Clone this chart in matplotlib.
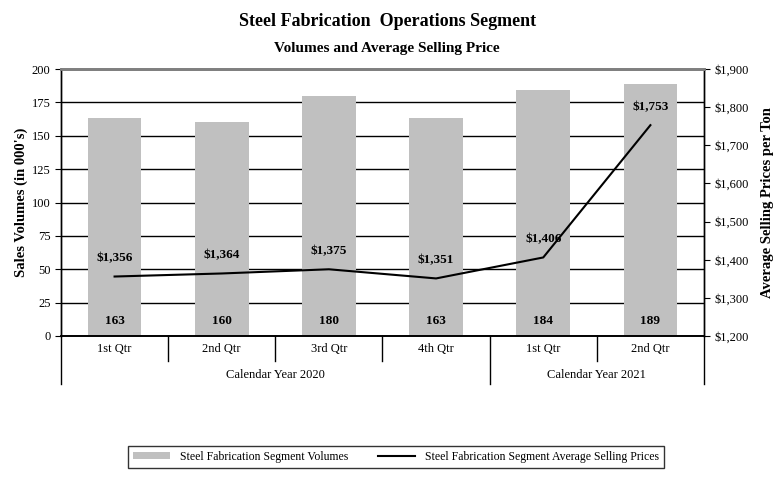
import matplotlib.pyplot as plt
from matplotlib.ticker import FuncFormatter

plt.rcParams['font.family'] = ['Liberation Serif', 'DejaVu Serif']

quarters = ['1st Qtr', '2nd Qtr', '3rd Qtr', '4th Qtr', '1st Qtr', '2nd Qtr']
years = ['Calendar Year 2020', 'Calendar Year 2021']
year_spans = [(0, 4), (4, 6)]
volumes = [163, 160, 180, 163, 184, 189]
prices = [1356, 1364, 1375, 1351, 1406, 1753]

fig = plt.figure(figsize=(7.79, 4.8), dpi=100)
ax = fig.add_axes([0.0783, 0.3, 0.8254, 0.556])
ax2 = ax.twinx()

x = list(range(len(quarters)))
ax.bar(x, volumes, width=0.5, color='#C0C0C0', zorder=2,
       label='Steel Fabrication Segment Volumes')
for xi, v in zip(x, volumes):
    ax.text(xi, 11, str(v), ha='center', va='center', fontsize=9.5,
            fontweight='bold', zorder=5)

ax.set_xlim(-0.5, 5.5)
ax.set_ylim(0, 200)
ax.set_yticks(range(0, 201, 25))
ax.yaxis.grid(True, color='black', linewidth=1, zorder=0)
ax.set_axisbelow(True)
ax.set_xticks([])
ax.tick_params(axis='y', labelsize=9, length=4, direction='out')
ax.set_ylabel("Sales Volumes (in 000's)", fontsize=10.5, fontweight='bold',
              labelpad=3)

ax2.plot(x, prices, color='black', linewidth=1.5, zorder=4,
         label='Steel Fabrication Segment Average Selling Prices')
for xi, p in zip(x, prices):
    ax2.annotate('${:,}'.format(p), (xi, p), xytext=(0, 13),
                 textcoords='offset points', ha='center', va='center',
                 fontsize=9.5, fontweight='bold')
ax2.set_ylim(1200, 1900)
ax2.set_yticks(range(1200, 1901, 100))
ax2.yaxis.set_major_formatter(FuncFormatter(lambda v, p: '${:,.0f}'.format(v)))
ax2.tick_params(axis='y', labelsize=9, length=4, direction='out')
ax2.set_ylabel('Average Selling Prices per Ton', fontsize=10.5,
               fontweight='bold', labelpad=9)

for a in (ax, ax2):
    a.spines['top'].set_color('#808080')
    a.spines['top'].set_linewidth(2)
    a.spines['left'].set_linewidth(1)
    a.spines['right'].set_linewidth(1)
    a.spines['bottom'].set_linewidth(1.2)

# category axis drawn below the plot
trans = ax.get_xaxis_transform()
for i in range(1, len(quarters)):
    if i in [s[0] for s in year_spans]:
        continue
    ax.plot([i - 0.5, i - 0.5], [0, -0.095], color='black', lw=1,
            transform=trans, clip_on=False)
for s, e in year_spans:
    ax.plot([s - 0.5, s - 0.5], [0, -0.18], color='black', lw=1,
            transform=trans, clip_on=False)
    ax.text((s + e - 1) / 2, -0.145, years[year_spans.index((s, e))],
            transform=trans, ha='center', va='center', fontsize=9)
ax.plot([5.5, 5.5], [0, -0.18], color='black', lw=1, transform=trans,
        clip_on=False)
for xi, q in zip(x, quarters):
    ax.text(xi, -0.048, q, transform=trans, ha='center', va='center',
            fontsize=9)

fig.text(0.497, 0.955, 'Steel Fabrication  Operations Segment', ha='center',
         va='center', fontsize=13, fontweight='bold')
fig.text(0.497, 0.898, 'Volumes and Average Selling Price', ha='center',
         va='center', fontsize=11, fontweight='bold')

h1, l1 = ax.get_legend_handles_labels()
h2, l2 = ax2.get_legend_handles_labels()
leg = fig.legend(h1 + h2, l1 + l2, loc='center', bbox_to_anchor=(0.508, 0.048),
                 ncol=2, fontsize=8.5, frameon=True, fancybox=False,
                 edgecolor='black', handlelength=3.2, handleheight=0.5,
                 columnspacing=2.5, borderpad=0.4)
leg.get_frame().set_linewidth(1)

fig.savefig('out.png', dpi=100)
